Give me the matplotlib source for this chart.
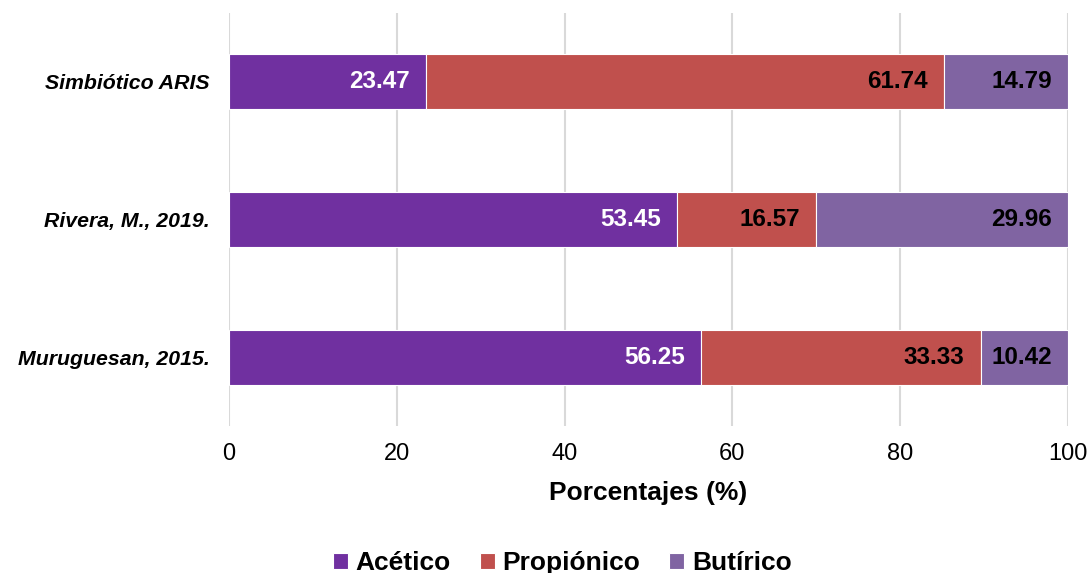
import matplotlib.pyplot as plt
import numpy as np

plt.rcParams['font.family'] = ['Liberation Sans', 'DejaVu Sans']

categories = ["Simbiótico ARIS", "Rivera, M., 2019.", "Muruguesan, 2015."]
series_names = ["Acético", "Propiónico", "Butírico"]
acetico = [23.47, 53.45, 56.25]
propionico = [61.74, 16.57, 33.33]
butirico = [14.79, 29.96, 10.42]
xticks = [0, 20, 40, 60, 80, 100]

colors = ["#7030A0", "#C0504D", "#8064A2"]
label_colors = ["white", "black", "black"]

fig = plt.figure(figsize=(10.9, 5.73), dpi=100)
ax = fig.add_axes([0.2101, 0.2565, 0.7697, 0.7208])

y = np.arange(len(categories))
left = np.zeros(len(categories))
handles = []
for vals, name, col, tcol in zip([acetico, propionico, butirico], series_names, colors, label_colors):
    bars = ax.barh(y, vals, left=left, height=0.4, color=col, edgecolor="white",
                   linewidth=0.8, label=name, zorder=3)
    for b, v in zip(bars, vals):
        ax.annotate(f"{v:.2f}", xy=(b.get_x() + b.get_width(), b.get_y() + b.get_height() / 2),
                    xytext=(-11.5, 0), textcoords="offset points", ha="right", va="center",
                    fontsize=17.5, fontweight="bold", color=tcol, zorder=4)
    left += np.array(vals)
    handles.append(bars)

ax.set_xlim(0, 100)
ax.set_ylim(len(categories) - 0.5, -0.5)
ax.set_xticks(xticks)
ax.set_xticklabels([str(t) for t in xticks], fontsize=17)
ax.set_yticks(y)
ax.set_yticklabels(categories, fontsize=15.3, fontweight="bold", style="italic")
ax.tick_params(axis="both", length=0)
ax.tick_params(axis="y", pad=14)
ax.tick_params(axis="x", pad=12)
for s in ax.spines.values():
    s.set_visible(False)
ax.grid(axis="x", color="#D9D9D9", linewidth=1.5, zorder=0)
ax.set_axisbelow(True)

ax.set_xlabel("Porcentajes (%)", fontsize=19, fontweight="bold", labelpad=12)

fig.legend(handles=handles, labels=series_names, loc="lower center",
           bbox_to_anchor=(0.516, -0.045), ncol=3, frameon=False,
           prop={"size": 19, "weight": "bold"}, handlelength=0.55, handleheight=0.55,
           handletextpad=0.3, columnspacing=1.1)

fig.savefig("out.png", dpi=100)
